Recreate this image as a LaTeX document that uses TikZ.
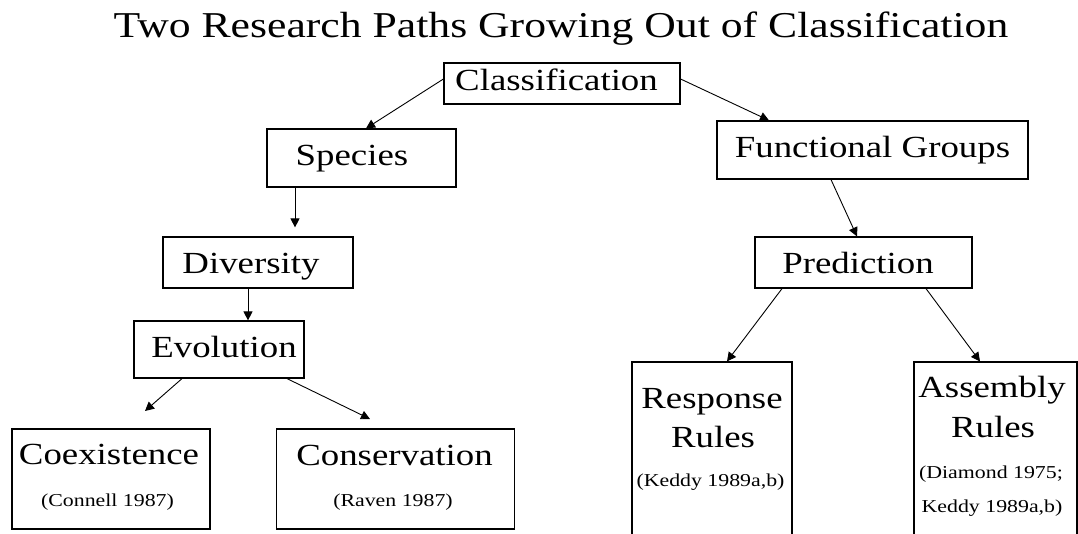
\documentclass[tikz,border=0pt]{standalone}
\usepackage{fontspec}
\setmainfont{Liberation Serif}[FakeStretch=1.2]
\usetikzlibrary{arrows.meta}
\begin{document}
\begin{tikzpicture}[x=1pt,y=-1pt,
  box/.style={draw, line width=1.2pt, inner sep=0pt},
  big/.style={inner sep=0pt, anchor=base, font=\fontsize{30.7}{36}\selectfont},
  small/.style={inner sep=0pt, anchor=base, font=\fontsize{18.2}{22}\selectfont},
  headline/.style={inner sep=0pt, anchor=base, font=\fontsize{36.4}{42}\selectfont},
  arr/.style={line width=0.9pt, -{Triangle[length=9pt,width=9pt]}}]
\useasboundingbox (0,0) rectangle (1078,533);

% heading
\node[headline] (title) at (561,37) {Two Research Paths Growing Out of Classification};

% boxes and their texts
\node[box, minimum width=236, minimum height=41] (cls) at (562,83.5) {};
\node[big] (clsT) at (556.5,90) {Classification};

\node[box, minimum width=189, minimum height=58] (spc) at (361.5,158) {};
\node[big] (spcT) at (352,165) {Species};

\node[box, minimum width=311, minimum height=58] (fg) at (872.5,150) {};
\node[big] (fgT) at (872.5,157.7) {Functional Groups};

\node[box, minimum width=190, minimum height=51] (div) at (258,262.5) {};
\node[big] (divT) at (251,273) {Diversity};

\node[box, minimum width=170, minimum height=57] (evo) at (219,349.5) {};
\node[big] (evoT) at (224,357) {Evolution};

\node[box, minimum width=217, minimum height=51] (pred) at (863.5,262.5) {};
\node[big] (predT) at (858,273) {Prediction};

\node[box, minimum width=198, minimum height=100] (coex) at (111,479) {};
\node[big] (coexT) at (109,464) {Coexistence};
\node[small] (coexR) at (107.5,506) {(Connell 1987)};

\node[box, minimum width=238, minimum height=100] (cons) at (395.5,479) {};
\node[big] (consT) at (394.5,465) {Conservation};
\node[small] (consR) at (393,506) {(Raven 1987)};

\node[box, minimum width=160, minimum height=200] (resp) at (712,462) {};
\node[big] (respT) at (712,408) {Response};
\node[big] (respT2) at (713,447) {Rules};
\node[small] (respR) at (710.5,486) {(Keddy 1989a,b)};

\node[box, minimum width=163, minimum height=200] (asm) at (995.5,462) {};
\node[big] (asmT) at (992,397) {Assembly};
\node[big] (asmT2) at (993,437) {Rules};
\node[small] (asmR) at (991,478) {(Diamond 1975;};
\node[small] (asmR2) at (992,512) {Keddy 1989a,b)};

% free arrow ends above the bottom boxes
\coordinate (coexIn) at (145,411);
\coordinate (consIn) at (370,419);

% connectors
\draw[arr] ([yshift=4.5pt]cls.west) -- ([xshift=4.5pt]spc.north);
\draw[arr] ([yshift=4.5pt]cls.east) -- ([xshift=-103.5pt]fg.north);
\draw[arr] ([xshift=-66.5pt]spc.south) -- ([xshift=37pt,yshift=9pt]div.north);
\draw[arr] ([xshift=-10pt]div.south) -- ([xshift=29pt]evo.north);
\draw[arr] ([xshift=-37pt]evo.south) -- (coexIn);
\draw[arr] ([xshift=68pt]evo.south) -- (consIn);
\draw[arr] ([xshift=-41.5pt]fg.south) -- ([xshift=-6.5pt]pred.north);
\draw[arr] ([xshift=-81.5pt]pred.south) -- ([xshift=15pt]resp.north);
\draw[arr] ([xshift=62.5pt]pred.south) -- ([xshift=-15.5pt]asm.north);
\end{tikzpicture}
\end{document}
